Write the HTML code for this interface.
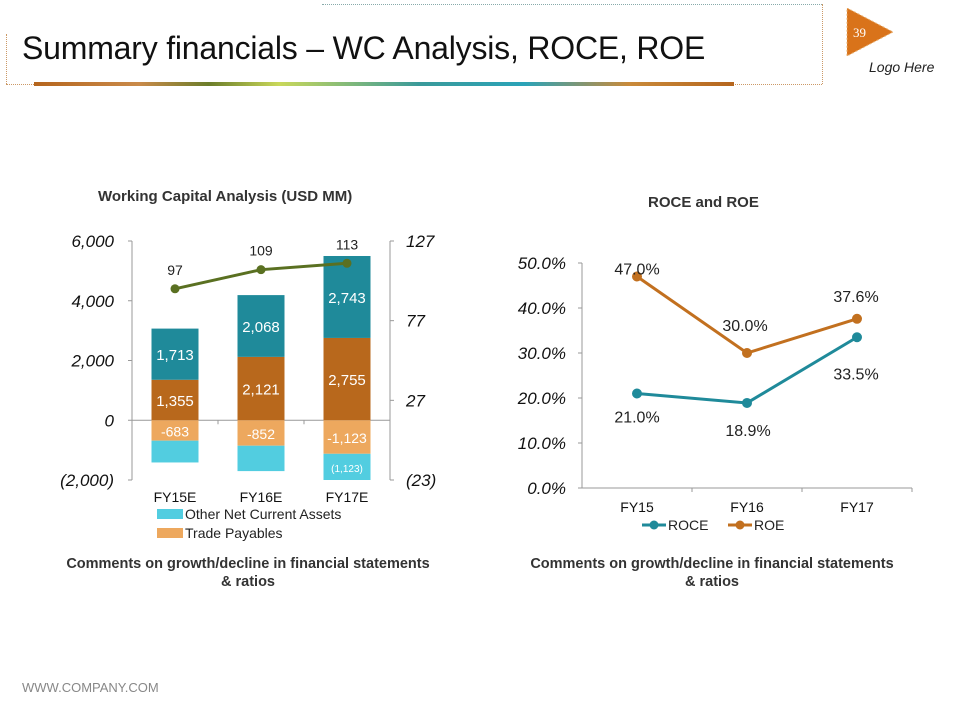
<!DOCTYPE html>
<html><head><meta charset="utf-8"><style>
body{margin:0;width:960px;height:720px;background:#fff;font-family:"Liberation Sans",Arial,sans-serif;position:relative;overflow:hidden}
.abs{position:absolute}
</style></head><body>
<div class="abs" style="left:322px;top:4px;width:500px;border-top:1px dotted #8aa"></div>
<div class="abs" style="left:822px;top:4px;height:80px;border-left:1px dotted #c96"></div>
<div class="abs" style="left:6px;top:34px;height:50px;border-left:1px dotted #c96"></div>
<div class="abs" style="left:6px;top:84px;width:816px;border-top:1px dotted #c96"></div>
<div class="abs" style="left:22px;top:30px;font-size:32px;color:#111;letter-spacing:-0.2px">Summary financials – WC Analysis, ROCE, ROE</div>
<div class="abs" style="left:34px;top:82px;width:700px;height:4px;background:linear-gradient(90deg,#b5651d,#c98a4a 15%,#6b7d2a 25%,#c9d85a 35%,#3a9a9a 55%,#2aa3b8 70%,#c98a3a 85%,#b5651d)"></div>
<svg class="abs" style="left:845px;top:8px" width="50" height="50"><polygon points="2,0 48,24 2,48" fill="#d9731a" stroke="#e8b070" stroke-dasharray="2,2"/><text x="8" y="29" font-size="13" fill="#fff" font-family="Liberation Serif">39</text></svg>
<div class="abs" style="left:869px;top:59px;font-size:14px;font-style:italic;color:#222">Logo Here</div>

<div class="abs" style="left:98px;top:188px;font-size:15px;font-weight:bold;color:#333">Working Capital Analysis (USD MM)</div>
<div class="abs" style="left:648px;top:194px;font-size:15px;font-weight:bold;color:#333">ROCE and ROE</div>

<svg class="abs" style="left:0;top:0" width="960" height="720" id="charts"></svg>

<div class="abs" style="left:40px;top:555px;width:416px;text-align:center;font-size:14.5px;font-weight:bold;color:#333;line-height:18px">Comments on growth/decline in financial statements<br>&amp; ratios</div>
<div class="abs" style="left:504px;top:555px;width:416px;text-align:center;font-size:14.5px;font-weight:bold;color:#333;line-height:18px">Comments on growth/decline in financial statements<br>&amp; ratios</div>
<div class="abs" style="left:22px;top:680px;font-size:13px;color:#888">WWW.COMPANY.COM</div>

<script>
const wcCats=["FY15E","FY16E","FY17E"];
const tradeRecv=[1355,2121,2755];
const otherPos=[1713,2068,2743];
const tradePay=[-683,-852,-1123];
const otherNeg=[-730,-850,-877];
const negLabels=["-683","-852","-1,123"];
const otherNegLabels=["","","(1,123)"];
const lineVals=[97,109,113];
const leftTicks=[6000,4000,2000,0,-2000];
const leftTickLabels=["6,000","4,000","2,000","0","(2,000)"];
const rightTicks=[127,77,27,-23];
const rightTickLabels=["127","77","27","(23)"];
const rCats=["FY15","FY16","FY17"];
const roce=[21.0,18.9,33.5];
const roe=[47.0,30.0,37.6];
const pctTicks=[0,10,20,30,40,50];

const svg=document.getElementById('charts');
const NS="http://www.w3.org/2000/svg";
function mk(tag,attrs,txt){const e=document.createElementNS(NS,tag);for(const k in attrs)e.setAttribute(k,attrs[k]);if(txt!==undefined)e.textContent=txt;svg.appendChild(e);return e;}
const fmt=v=>v.toLocaleString('en-US');

const L={x0:132,x1:390,yTop:241,yBot:480};
const yL=v=>L.yBot-(v+2000)/8000*(L.yBot-L.yTop);
const yR=v=>L.yBot-(v+23)/150*(L.yBot-L.yTop);
const bw=(L.x1-L.x0)/3;
const cx=i=>L.x0+bw*(i+0.5);
let e;
e=mk('line',{x1:L.x0,y1:L.yTop,x2:L.x0,y2:L.yBot,stroke:'#999'});

e=mk('line',{x1:L.x1,y1:L.yTop,x2:L.x1,y2:L.yBot,stroke:'#999'});

e=mk('line',{x1:L.x0,y1:yL(0),x2:L.x1,y2:yL(0),stroke:'#999'});

leftTicks.forEach((t,i)=>{
  mk('line',{x1:L.x0-4,y1:yL(t),x2:L.x0,y2:yL(t),stroke:'#999'});
  e=mk('text',{x:L.x0-18,y:yL(t)+6,'text-anchor':'end','font-size':17,'font-style':'italic',fill:'#111'},leftTickLabels[i]);
  
});
rightTicks.forEach((t,i)=>{
  mk('line',{x1:L.x1,y1:yR(t),x2:L.x1+4,y2:yR(t),stroke:'#999'});
  e=mk('text',{x:L.x1+16,y:yR(t)+6,'font-size':17,'font-style':'italic',fill:'#111'},rightTickLabels[i]);
  
});
const BW=47;
wcCats.forEach((c,i)=>{
  const x=cx(i)-BW/2;
  const y0=yL(0),y1=yL(tradeRecv[i]),y2=yL(tradeRecv[i]+otherPos[i]),y3=yL(tradePay[i]),y4=yL(tradePay[i]+otherNeg[i]);
  e=mk('rect',{x,y:y1,width:BW,height:y0-y1,fill:'#b8681c'});
  
  e=mk('rect',{x,y:y2,width:BW,height:y1-y2,fill:'#1f8a9a'});
  
  e=mk('rect',{x,y:y0,width:BW,height:y3-y0,fill:'#eda85e'});
  
  e=mk('rect',{x,y:y3,width:BW,height:y4-y3,fill:'#52cde0'});
  
  mk('text',{x:cx(i),y:(y0+y1)/2+6,'text-anchor':'middle','font-size':15,fill:'#fff'},fmt(tradeRecv[i]));
  mk('text',{x:cx(i),y:(y1+y2)/2+6,'text-anchor':'middle','font-size':15,fill:'#fff'},fmt(otherPos[i]));
  mk('text',{x:cx(i),y:(y0+y3)/2+6,'text-anchor':'middle','font-size':14,fill:'#fff'},negLabels[i]);
  if(otherNegLabels[i])mk('text',{x:cx(i),y:(y3+y4)/2+5,'text-anchor':'middle','font-size':10,fill:'#fff'},otherNegLabels[i]);
  e=mk('text',{x:cx(i),y:502,'text-anchor':'middle','font-size':14,fill:'#111'},c);
  
  if(i>0)mk('line',{x1:L.x0+bw*i,y1:yL(0),x2:L.x0+bw*i,y2:yL(0)+4,stroke:'#999'});
});
e=mk('polyline',{points:lineVals.map((v,i)=>cx(i)+','+yR(v)).join(' '),fill:'none',stroke:'#5a7021','stroke-width':3});

lineVals.forEach((v,i)=>{
  e=mk('circle',{cx:cx(i),cy:yR(v),r:4.5,fill:'#5a7021'});
  
  mk('text',{x:cx(i),y:yR(v)-14,'text-anchor':'middle','font-size':14,fill:'#222'},String(v));
});
e=mk('rect',{x:157,y:509,width:26,height:10,fill:'#52cde0'});
mk('text',{x:185,y:519,'font-size':14,fill:'#222'},'Other Net Current Assets');
e=mk('rect',{x:157,y:528,width:26,height:10,fill:'#eda85e'});
mk('text',{x:185,y:538,'font-size':14,fill:'#222'},'Trade Payables');

const R={x0:582,x1:912,yTop:263,yBot:488};
const yP=v=>R.yBot-v/50*(R.yBot-R.yTop);
const rw=(R.x1-R.x0)/3;
const rx=i=>R.x0+rw*(i+0.5);
e=mk('line',{x1:R.x0,y1:R.yTop,x2:R.x0,y2:R.yBot,stroke:'#999'});
e=mk('line',{x1:R.x0,y1:R.yBot,x2:R.x1,y2:R.yBot,stroke:'#999'});
pctTicks.forEach(t=>{
  mk('line',{x1:R.x0-4,y1:yP(t),x2:R.x0,y2:yP(t),stroke:'#999'});
  e=mk('text',{x:R.x0-16,y:yP(t)+6,'text-anchor':'end','font-size':17,'font-style':'italic',fill:'#111'},t.toFixed(1)+'%');
  
});
for(let i=1;i<=3;i++)mk('line',{x1:R.x0+rw*i,y1:R.yBot,x2:R.x0+rw*i,y2:R.yBot+4,stroke:'#999'});
rCats.forEach((c,i)=>{e=mk('text',{x:rx(i),y:512,'text-anchor':'middle','font-size':14,fill:'#111'},c);});
function series(vals,color,name,offs){
  let e=mk('polyline',{points:vals.map((v,i)=>rx(i)+','+yP(v)).join(' '),fill:'none',stroke:color,'stroke-width':3});
  
  vals.forEach((v,i)=>{
    e=mk('circle',{cx:rx(i),cy:yP(v),r:5,fill:color});
    
    mk('text',{x:rx(i)+offs[i][0],y:yP(v)+offs[i][1],'text-anchor':'middle','font-size':16,fill:'#222'},v.toFixed(1)+'%');
  });
}
series(roce,'#1f8a9a','roce',[[0,29],[1,33],[-1,42]]);
series(roe,'#c2701f','roe',[[0,-2],[-2,-22],[-1,-17]]);
e=mk('line',{x1:642,y1:525,x2:666,y2:525,stroke:'#1f8a9a','stroke-width':3});
mk('circle',{cx:654,cy:525,r:4.5,fill:'#1f8a9a'});
mk('text',{x:668,y:530,'font-size':14,fill:'#222'},'ROCE');
e=mk('line',{x1:728,y1:525,x2:752,y2:525,stroke:'#c2701f','stroke-width':3});
mk('circle',{cx:740,cy:525,r:4.5,fill:'#c2701f'});
mk('text',{x:754,y:530,'font-size':14,fill:'#222'},'ROE');
</script>
</body></html>
